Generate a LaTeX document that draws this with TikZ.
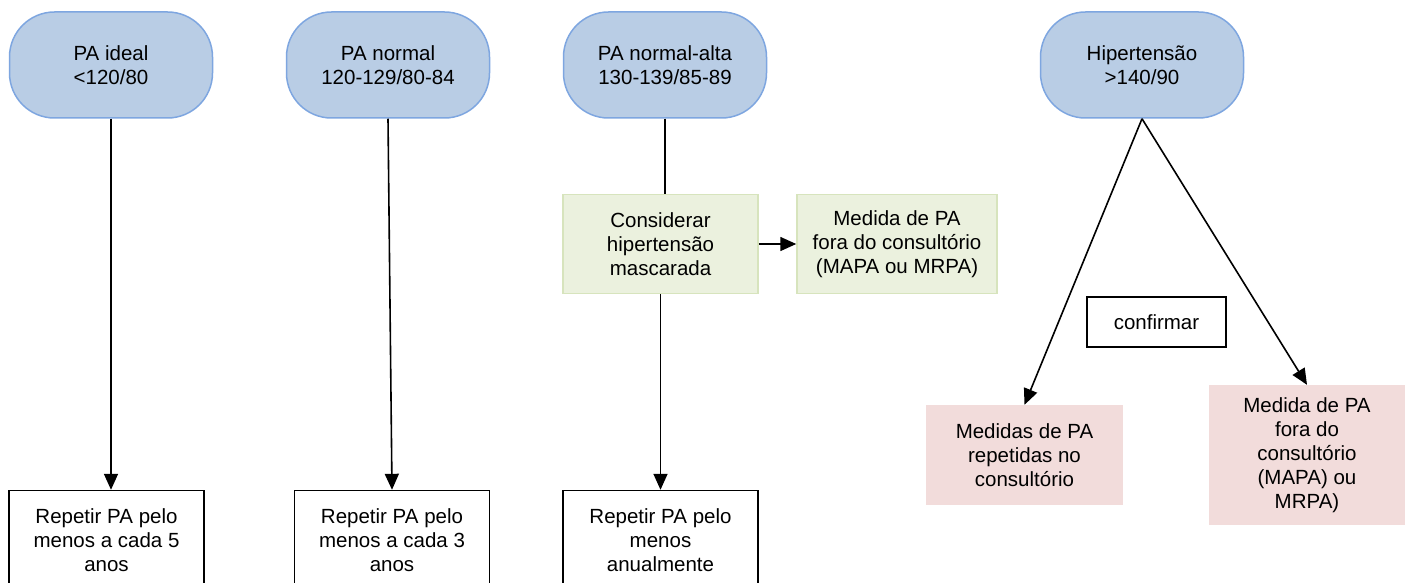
\documentclass[tikz,border=0pt]{standalone}
\usepackage{fontspec}
\setmainfont{Liberation Sans}
\usetikzlibrary{arrows.meta}
\definecolor{bluefill}{HTML}{B9CDE5}
\definecolor{blueline}{HTML}{7EA6E0}
\definecolor{greenfill}{HTML}{EBF1DE}
\definecolor{greenline}{HTML}{D7E4BD}
\definecolor{pinkfill}{HTML}{F2DCDB}
\begin{document}
\begin{tikzpicture}[x=1pt,y=-1pt,
  every node/.style={font=\fontsize{20.5}{24}\selectfont, align=center, inner sep=0pt},
  topbox/.style={draw=blueline, fill=bluefill, line width=1.5pt, rounded corners=45pt, minimum width=203pt, minimum height=106pt},
  greenbox/.style={draw=greenline, fill=greenfill, line width=1.5pt, minimum height=99pt},
  pinkbox/.style={fill=pinkfill},
  whitebox/.style={draw=black, line width=1.4pt, minimum width=195pt, minimum height=99pt},
  arr/.style={-{Triangle[length=16pt,width=14pt]}, line width=1.6pt},
  conn/.style={line width=1.6pt}]
\useasboundingbox (0,0) rectangle (1411,583);
\fill[white] (0,0) rectangle (1411,583);

\node[topbox] (t1) at (111,65) {PA ideal\\<120/80};
\node[topbox] (t2) at (388,65) {PA normal\\120-129/80-84};
\node[topbox] (t3) at (665,65) {PA normal-alta\\130-139/85-89};
\node[topbox] (t4) at (1142,65) {Hipertensão\\>140/90};

\node[greenbox, minimum width=195pt] (g1) at (660.5,244) {Considerar\\hipertensão\\mascarada};
\node[greenbox, minimum width=200pt] (g2) at (897,244) {Medida de PA\\fora do consultório\\(MAPA ou MRPA)};

\node[whitebox] (b1) at (106.5,540) {Repetir PA pelo\\menos a cada 5\\anos};
\node[whitebox] (b2) at (392,540) {Repetir PA pelo\\menos a cada 3\\anos};
\node[whitebox] (b3) at (660.5,540) {Repetir PA pelo\\menos\\anualmente};

\node[draw=black, line width=1.4pt, minimum width=139pt, minimum height=50pt] (c) at (1156.5,322) {confirmar};

\node[pinkbox, minimum width=197pt, minimum height=100pt] (p1) at (1024.5,455) {Medidas de PA\\repetidas no\\consultório};
\node[pinkbox, minimum width=196pt, minimum height=140pt] (p2) at (1307,455) {Medida de PA\\fora do\\consultório\\(MAPA) ou\\MRPA)};

\draw[arr] (t1.south) -- (t1.south |- b1.north);
\draw[arr] (t2.south) -- (b2.north);
\draw[conn] (t3.south) -- (t3.south |- g1.north);
\draw[arr] (g1.east) -- (g2.west);
\draw[arr] (g1.south) -- (b3.north);
\draw[arr] (t4.south) -- (p1.north);
\draw[arr] (t4.south) -- (p2.north);
\end{tikzpicture}
\end{document}
